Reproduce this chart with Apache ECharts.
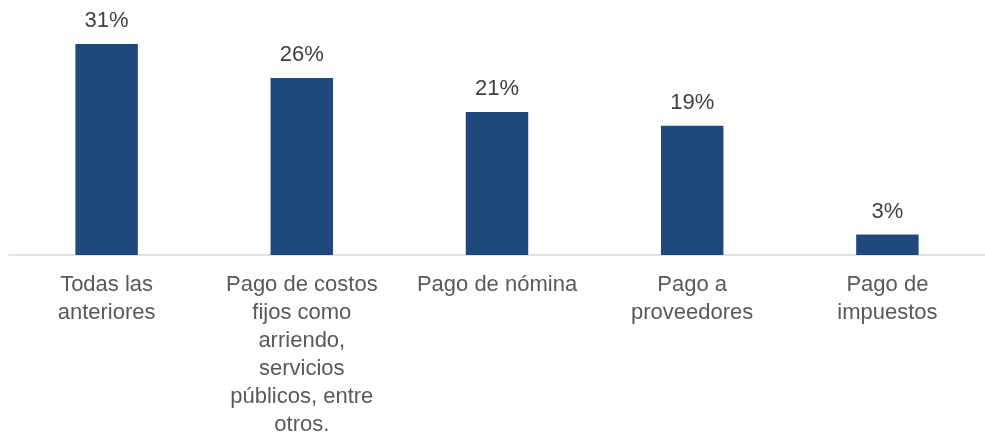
<!DOCTYPE html>
<html>
<head>
<meta charset="utf-8">
<script src="https://cdn.jsdelivr.net/npm/echarts@6/dist/echarts.min.js"></script>
<style>
  html, body { margin: 0; padding: 0; background: #fff; }
  #chart { width: 985px; height: 446px; }
</style>
</head>
<body>
<div id="chart"></div>
<script>
// categorías (saltos de línea como en el original)
var categories = [
  'Todas las\nanteriores',
  'Pago de costos\nfijos como\narriendo,\nservicios\npúblicos, entre\notros.',
  'Pago de nómina',
  'Pago a\nproveedores',
  'Pago de\nimpuestos'
];
var values = [31, 26, 21, 19, 3];

var chart = echarts.init(document.getElementById('chart'));
var option = {
  backgroundColor: '#ffffff',
  animation: false,
  grid: {
    left: 9,
    right: -1,
    top: 44,
    bottom: 191,
    containLabel: false
  },
  xAxis: {
    type: 'category',
    data: categories,
    axisTick: { show: false },
    axisLine: { lineStyle: { color: '#d9d9d9', width: 1.5 } },
    axisLabel: {
      interval: 0,
      margin: 16,
      color: '#595959',
      fontFamily: 'Liberation Sans, Arial, sans-serif',
      fontSize: 22,
      lineHeight: 28,
      align: 'center'
    }
  },
  yAxis: {
    type: 'value',
    min: 0,
    max: 31,
    show: false,
    splitLine: { show: false }
  },
  series: [{
    type: 'bar',
    data: values,
    barWidth: '32%',
    itemStyle: { color: '#1f497c' },
    label: {
      show: true,
      position: 'top',
      distance: 12,
      formatter: '{c}%',
      color: '#404040',
      fontFamily: 'Liberation Sans, Arial, sans-serif',
      fontSize: 22
    }
  }]
};
chart.setOption(option);
</script>
</body>
</html>
